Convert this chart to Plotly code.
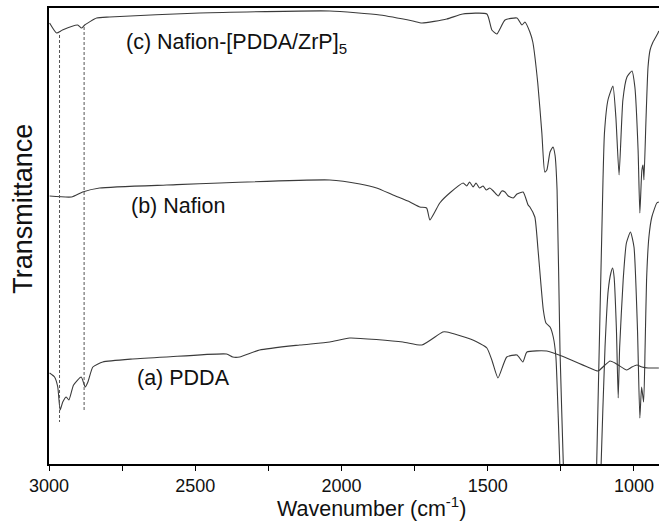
import plotly.graph_objects as go

# Wavenumber (cm-1) and transmittance (arbitrary units)
a_wn = [2998, 2981, 2970, 2962, 2953, 2941, 2932, 2916, 2890, 2876, 2867, 2850, 2816, 2714, 2598, 2393,
        2372, 2348, 2280, 2143, 2040, 1972, 1790, 1725, 1654, 1640, 1551, 1503, 1486, 1465, 1435, 1400,
        1380, 1366, 1298, 1247, 1151, 1123, 1099, 1082, 1065, 1054, 1025, 1007, 990, 973, 952, 915]
a_t = [91, 87, 77, 54, 62, 67, 64, 79, 87, 77, 82, 97, 102, 105, 107, 110,
       107, 107, 114, 119, 122, 126, 122, 119, 132, 132, 124, 116, 104, 86, 107, 109,
       102, 112, 113, 108, 96, 93, 99, 103, 101, 99, 94, 97, 99, 97, 96, 96]

b_wn = [2998, 2923, 2885, 2827, 2598, 2040, 1937, 1880, 1824, 1766, 1732, 1709, 1698, 1681, 1664, 1630,
        1584, 1572, 1562, 1550, 1540, 1528, 1516, 1505, 1493, 1481, 1464, 1452, 1441, 1430, 1413, 1400,
        1379, 1362, 1356, 1339, 1328, 1310, 1301, 1287, 1276, 1267, 1259, 1253, 1240, 1180, 1125, 1113,
        1099, 1088, 1079, 1073, 1068, 1060, 1054, 1049, 1037, 1026, 1012, 1000, 988, 980, 974, 967,
        962, 957, 949, 939, 922, 915]
b_t = [268, 267, 272, 276, 279, 284, 280, 276, 269, 262, 257, 256, 244, 252, 261, 271,
       281, 278, 282, 277, 281, 276, 278, 274, 276, 273, 268, 273, 272, 268, 266, 270,
       272, 259, 257, 247, 214, 154, 141, 137, 127, 107, 47, -6, -150, -250, -150, -6,
       117, 174, 191, 196, 187, 134, 66, 117, 184, 221, 232, 217, 134, 46, 77, 62,
       117, 184, 227, 247, 261, 262]

c_wn = [2998, 2974, 2954, 2902, 2889, 2878, 2837, 2793, 2485, 2040, 1869, 1756, 1725, 1640, 1585, 1503,
        1486, 1469, 1441, 1400, 1383, 1373, 1356, 1346, 1329, 1315, 1305, 1298, 1287, 1277, 1270, 1263,
        1253, 1241, 1225, 1185, 1140, 1128, 1106, 1101, 1089, 1072, 1062, 1051, 1038, 1024, 1007, 997,
        986, 980, 973, 969, 966, 959, 952, 945, 935, 918, 915]
c_t = [441, 431, 434, 439, 436, 439, 446, 447, 451, 453, 449, 443, 441, 445, 450, 450,
       434, 430, 444, 446, 439, 442, 432, 422, 381, 331, 292, 294, 312, 317, 309, 274,
       114, -6, -150, -230, -150, -6, 284, 331, 364, 378, 347, 289, 364, 387, 393, 377,
       314, 251, 294, 299, 284, 344, 397, 414, 422, 431, 433]

# dashed guide lines (wavenumber, start/end level)
guide_wn = [2964, 2880]
guide_top = [429, 437]
guide_bottom = [42, 52]

labels = ["(a) PDDA", "(b) Nafion", "(c) Nafion-[PDDA/ZrP]<sub>5</sub>"]
label_wn = [2707, 2728, 2742]
label_t = [86, 258, 421]

tick_vals = [3000, 2500, 2000, 1500, 1000]
tick_text = ["3000", "2500", "2000", "1500", "1000"]

FONT = "Liberation Sans, Arial, sans-serif"
LINE = "#3a3a3a"

fig = go.Figure()
for wn, t in [(a_wn, a_t), (b_wn, b_t), (c_wn, c_t)]:
    fig.add_trace(go.Scatter(x=wn, y=t, mode="lines",
                             line=dict(color=LINE, width=1.1, shape="spline", smoothing=0.5),
                             showlegend=False, hoverinfo="skip"))
for gx, gt, gb in zip(guide_wn, guide_top, guide_bottom):
    fig.add_trace(go.Scatter(x=[gx, gx], y=[gt, gb], mode="lines",
                             line=dict(color="#555555", width=1, dash="3px,2px"),
                             showlegend=False, hoverinfo="skip"))

for txt, lx, ly in zip(labels, label_wn, label_t):
    fig.add_annotation(x=lx, y=ly, xref="x", yref="y", text=txt, showarrow=False,
                       xanchor="left", yanchor="middle",
                       font=dict(family=FONT, size=21.5, color="#111111"))

fig.add_annotation(x=-0.044, y=0.56, xref="paper", yref="paper", text="Transmittance",
                   textangle=-90, showarrow=False, xanchor="center", yanchor="middle",
                   font=dict(family=FONT, size=27, color="#111111"))
fig.add_annotation(x=0.5295, y=-0.094, xref="paper", yref="paper",
                   text="Wavenumber (cm<sup>-1</sup>)", showarrow=False,
                   xanchor="center", yanchor="middle",
                   font=dict(family=FONT, size=21.5, color="#111111"))

fig.update_layout(
    width=659, height=521,
    margin=dict(l=49, r=0, t=8, b=57),
    paper_bgcolor="white", plot_bgcolor="white",
    font=dict(family=FONT, color="#111111"),
    xaxis=dict(range=[3000, 914.5], showgrid=False, zeroline=False,
               showline=True, linecolor="black", linewidth=1.5, mirror=True,
               ticks="outside", ticklen=5, tickwidth=1.3, tickcolor="black",
               tickvals=tick_vals, ticktext=tick_text,
               tickfont=dict(family=FONT, size=18, color="#111111"),
               minor=dict(tickvals=[2750, 2250, 1750, 1250], ticks="outside",
                          ticklen=5, tickwidth=1.3, tickcolor="black")),
    yaxis=dict(range=[0, 456], showgrid=False, zeroline=False, showticklabels=False,
               showline=True, linecolor="black", linewidth=1.5, ticks=""),
)

fig.write_html("out.html")
